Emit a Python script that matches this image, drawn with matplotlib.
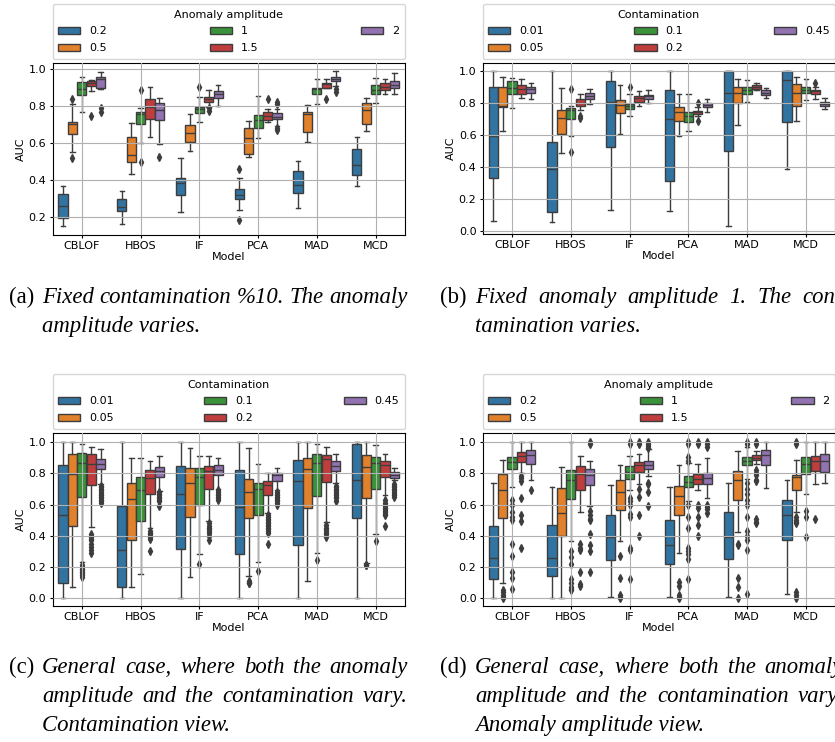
import numpy as np
import matplotlib.pyplot as plt
from matplotlib.patches import Patch

models = ["CBLOF", "HBOS", "IF", "PCA", "MAD", "MCD"]
amplitudes = ["0.2", "0.5", "1", "1.5", "2"]
contaminations = ["0.01", "0.05", "0.1", "0.2", "0.45"]

# box summaries: (whisker low, q1, median, q3, whisker high)
# one row per hue level, one tuple per model (CBLOF, HBOS, IF, PCA, MAD, MCD)

# (a) contamination fixed at 10%, amplitude varies
stats_a = [
    [(0.148, 0.193, 0.256, 0.322, 0.369), (0.160, 0.232, 0.252, 0.295, 0.340),
     (0.223, 0.319, 0.380, 0.409, 0.517), (0.238, 0.295, 0.319, 0.351, 0.409),
     (0.247, 0.328, 0.373, 0.445, 0.504), (0.369, 0.427, 0.481, 0.568, 0.629)],
    [(0.550, 0.647, 0.703, 0.712, 0.811), (0.432, 0.495, 0.535, 0.631, 0.710),
     (0.557, 0.604, 0.656, 0.694, 0.755), (0.523, 0.539, 0.625, 0.679, 0.719),
     (0.602, 0.661, 0.757, 0.767, 0.805), (0.665, 0.703, 0.778, 0.818, 0.841)],
    [(0.769, 0.859, 0.892, 0.932, 0.955), (0.598, 0.703, 0.755, 0.769, 0.787),
     (0.714, 0.764, 0.784, 0.796, 0.850), (0.625, 0.679, 0.724, 0.751, 0.856),
     (0.809, 0.863, 0.890, 0.899, 0.944), (0.818, 0.863, 0.886, 0.914, 0.953)],
    [(0.883, 0.908, 0.926, 0.937, 0.940), (0.634, 0.728, 0.793, 0.836, 0.900),
     (0.793, 0.820, 0.838, 0.850, 0.888), (0.715, 0.724, 0.748, 0.769, 0.782),
     (0.895, 0.899, 0.917, 0.926, 0.946), (0.865, 0.886, 0.905, 0.923, 0.946)],
    [(0.892, 0.895, 0.946, 0.959, 0.982), (0.595, 0.724, 0.778, 0.818, 0.845),
     (0.800, 0.845, 0.863, 0.881, 0.915), (0.690, 0.728, 0.740, 0.764, 0.785),
     (0.908, 0.935, 0.946, 0.959, 0.991), (0.863, 0.895, 0.914, 0.937, 0.977)],
]
fliers_a = {
    ("0.5", "CBLOF"): [0.84, 0.52],
    ("1.5", "CBLOF"): [0.744],
    ("2", "CBLOF"): [0.787, 0.769],
    ("1", "HBOS"): [0.886, 0.494],
    ("2", "HBOS"): [0.521],
    ("1", "IF"): [0.901],
    ("1.5", "IF"): [0.787, 0.773],
    ("0.2", "PCA"): [0.459, 0.184],
    ("1.5", "PCA"): [0.836],
    ("2", "PCA"): [0.82, 0.81, 0.68, 0.667],
    ("1.5", "MAD"): [0.836],
    ("2", "MAD"): [0.89, 0.877],
}

# (b) amplitude fixed at 1, contamination varies
stats_b = [
    [(0.062, 0.331, 0.594, 0.900, 1.000), (0.056, 0.118, 0.387, 0.553, 1.000),
     (0.130, 0.525, 0.807, 0.932, 1.000), (0.124, 0.311, 0.698, 0.880, 1.000),
     (0.031, 0.497, 0.860, 0.998, 1.000), (0.387, 0.677, 0.942, 0.998, 1.000)],
    [(0.621, 0.772, 0.780, 0.900, 0.959), (0.487, 0.605, 0.704, 0.752, 0.894),
     (0.605, 0.735, 0.787, 0.818, 0.911), (0.594, 0.683, 0.741, 0.776, 0.853),
     (0.663, 0.801, 0.859, 0.900, 0.948), (0.683, 0.781, 0.859, 0.915, 0.959)],
    [(0.766, 0.853, 0.890, 0.932, 0.952), (0.594, 0.698, 0.752, 0.766, 0.781),
     (0.714, 0.760, 0.781, 0.793, 0.853), (0.621, 0.677, 0.718, 0.745, 0.853),
     (0.807, 0.855, 0.880, 0.896, 0.942), (0.818, 0.859, 0.880, 0.900, 0.948)],
    [(0.832, 0.855, 0.884, 0.911, 0.946), (0.752, 0.781, 0.801, 0.822, 0.853),
     (0.781, 0.807, 0.828, 0.839, 0.870), (0.714, 0.729, 0.739, 0.749, 0.770),
     (0.876, 0.884, 0.900, 0.911, 0.925), (0.822, 0.855, 0.870, 0.880, 0.897)],
    [(0.822, 0.863, 0.884, 0.896, 0.925), (0.791, 0.822, 0.839, 0.859, 0.884),
     (0.797, 0.822, 0.839, 0.849, 0.876), (0.739, 0.772, 0.787, 0.801, 0.822),
     (0.828, 0.849, 0.863, 0.880, 0.890), (0.760, 0.781, 0.793, 0.807, 0.828)],
]
fliers_b = {
    ("0.1", "HBOS"): [0.884, 0.49],
    ("0.2", "HBOS"): [0.718, 0.704],
    ("0.1", "IF"): [0.897],
    ("0.2", "PCA"): [0.797, 0.683],
    ("0.2", "MCD"): [0.921],
}

# (c) both vary, grouped by contamination
stats_c = [
    [(0.000, 0.096, 0.534, 0.853, 1.000), (0.000, 0.074, 0.308, 0.588, 1.000),
     (0.000, 0.315, 0.670, 0.847, 1.000), (0.000, 0.283, 0.585, 0.819, 1.000),
     (0.000, 0.340, 0.751, 0.885, 1.000), (0.000, 0.513, 0.757, 0.985, 1.000)],
    [(0.070, 0.465, 0.795, 0.921, 1.000), (0.070, 0.374, 0.634, 0.736, 0.900),
     (0.135, 0.520, 0.740, 0.835, 0.960), (0.144, 0.511, 0.683, 0.762, 0.964),
     (0.112, 0.575, 0.830, 0.898, 1.000), (0.225, 0.639, 0.840, 0.915, 1.000)],
    [(0.230, 0.645, 0.864, 0.932, 0.985), (0.155, 0.492, 0.696, 0.776, 0.900),
     (0.285, 0.600, 0.775, 0.836, 0.910), (0.234, 0.534, 0.698, 0.741, 0.857),
     (0.290, 0.655, 0.868, 0.926, 0.990), (0.410, 0.698, 0.868, 0.904, 0.979)],
    [(0.457, 0.725, 0.862, 0.926, 0.970), (0.447, 0.666, 0.770, 0.819, 0.881),
     (0.495, 0.702, 0.815, 0.847, 0.910), (0.543, 0.660, 0.726, 0.751, 0.800),
     (0.490, 0.745, 0.894, 0.915, 0.970), (0.660, 0.779, 0.853, 0.879, 0.921)],
    [(0.730, 0.830, 0.862, 0.894, 0.958), (0.687, 0.776, 0.815, 0.840, 0.910),
     (0.700, 0.787, 0.821, 0.851, 0.900), (0.690, 0.751, 0.787, 0.800, 0.832),
     (0.741, 0.815, 0.847, 0.877, 0.921), (0.755, 0.773, 0.790, 0.808, 0.832)],
]
fliers_c = {
    ("0.1", "CBLOF"): [0.135, 0.15, 0.16, 0.17, 0.18, 0.19, 0.2, 0.21],
    ("0.2", "CBLOF"): [0.29, 0.31, 0.33, 0.35, 0.37, 0.38, 0.39, 0.4, 0.41],
    ("0.45", "CBLOF"): [0.61, 0.62, 0.63, 0.64, 0.65, 0.66, 0.67, 0.68, 0.69,
                        0.7, 0.71, 0.72],
    ("0.2", "HBOS"): [0.3, 0.38, 0.39, 0.4, 0.41, 0.42, 0.43],
    ("0.45", "HBOS"): [0.59, 0.62, 0.63, 0.64, 0.65, 0.66, 0.67, 0.68],
    ("0.1", "IF"): [0.22],
    ("0.2", "IF"): [0.37, 0.4, 0.42, 0.43, 0.44, 0.45, 0.46, 0.48],
    ("0.45", "IF"): [0.63, 0.64, 0.65, 0.66, 0.67, 0.68, 0.69],
    ("0.05", "PCA"): [0.095, 0.1, 0.105, 0.11],
    ("0.1", "PCA"): [0.176],
    ("0.2", "PCA"): [0.35, 0.42, 0.43, 0.44, 0.45, 0.46, 0.47, 0.48, 0.49,
                     0.5, 0.51, 0.52, 0.53],
    ("0.45", "PCA"): [0.6, 0.61, 0.62, 0.63, 0.64, 0.65, 0.66, 0.67, 0.68],
    ("0.1", "MAD"): [0.245],
    ("0.2", "MAD"): [0.395, 0.41, 0.42, 0.43, 0.44, 0.45, 0.47],
    ("0.45", "MAD"): [0.625, 0.64, 0.65, 0.66, 0.67, 0.68, 0.69, 0.7, 0.71,
                      0.72],
    ("0.05", "MCD"): [0.21, 0.215],
    ("0.1", "MCD"): [0.368],
    ("0.2", "MCD"): [0.463, 0.53, 0.54, 0.55, 0.56, 0.57, 0.58, 0.59, 0.6,
                     0.61, 0.63],
    ("0.45", "MCD"): [0.65, 0.66, 0.67, 0.68, 0.69, 0.7, 0.71, 0.72, 0.73],
}

# (d) both vary, grouped by anomaly amplitude
stats_d = [
    [(0.000, 0.125, 0.255, 0.460, 0.740), (0.000, 0.140, 0.255, 0.470, 0.710),
     (0.010, 0.245, 0.395, 0.530, 0.725), (0.005, 0.220, 0.340, 0.500, 0.715),
     (0.005, 0.250, 0.390, 0.550, 0.740), (0.030, 0.370, 0.530, 0.630, 0.760)],
    [(0.095, 0.515, 0.695, 0.795, 0.885), (0.000, 0.400, 0.545, 0.705, 0.840),
     (0.365, 0.565, 0.680, 0.755, 0.850), (0.290, 0.530, 0.655, 0.720, 0.850),
     (0.425, 0.630, 0.755, 0.815, 0.940), (0.550, 0.690, 0.775, 0.790, 0.885)],
    [(0.710, 0.830, 0.875, 0.905, 1.000), (0.365, 0.635, 0.760, 0.820, 1.000),
     (0.695, 0.765, 0.810, 0.845, 0.910), (0.620, 0.715, 0.745, 0.785, 0.865),
     (0.765, 0.855, 0.880, 0.905, 0.970), (0.670, 0.795, 0.860, 0.905, 1.000)],
    [(0.800, 0.875, 0.910, 0.935, 1.000), (0.550, 0.695, 0.795, 0.845, 0.910),
     (0.730, 0.810, 0.850, 0.870, 0.925), (0.690, 0.730, 0.765, 0.795, 0.860),
     (0.860, 0.885, 0.900, 0.915, 0.940), (0.730, 0.815, 0.880, 0.910, 1.000)],
    [(0.755, 0.860, 0.920, 0.950, 1.000), (0.590, 0.725, 0.790, 0.830, 0.880),
     (0.780, 0.825, 0.850, 0.880, 0.955), (0.640, 0.730, 0.770, 0.800, 0.900),
     (0.705, 0.850, 0.920, 0.950, 1.000), (0.735, 0.810, 0.880, 0.925, 1.000)],
]
fliers_d = {
    ("0.5", "CBLOF"): [0.0, 0.01, 0.02, 0.04, 0.05],
    ("1", "CBLOF"): [0.63, 0.6, 0.555, 0.52, 0.5, 0.35, 0.27, 0.165, 0.13, 0.06],
    ("1.5", "CBLOF"): [0.78, 0.77, 0.75, 0.64, 0.53, 0.495, 0.32],
    ("2", "CBLOF"): [0.69],
    ("1", "HBOS"): [0.3, 0.265, 0.22, 0.12, 0.1, 0.07, 0.06, 0.055],
    ("1.5", "HBOS"): [0.35, 0.32, 0.31, 0.17, 0.09, 0.08],
    ("2", "HBOS"): [1.0, 0.99, 0.56, 0.53, 0.51, 0.5, 0.41, 0.34, 0.3, 0.165],
    ("0.5", "IF"): [0.27, 0.13, 0.02, 0.01, 0.0],
    ("1", "IF"): [1.0, 0.99, 0.64, 0.62, 0.6, 0.54, 0.52, 0.32, 0.31, 0.125],
    ("1.5", "IF"): [1.0, 0.99, 0.7, 0.65, 0.53, 0.4],
    ("2", "IF"): [1.0, 0.99, 0.975, 0.96, 0.74, 0.73, 0.68, 0.59],
    ("0.5", "PCA"): [0.105, 0.08, 0.02, 0.01, 0.0],
    ("1", "PCA"): [1.0, 0.99, 0.905, 0.88, 0.6, 0.52, 0.45, 0.32, 0.3, 0.28,
                   0.25, 0.125],
    ("1.5", "PCA"): [1.0, 0.99, 0.6, 0.58, 0.52, 0.47, 0.4],
    ("2", "PCA"): [1.0, 0.99, 0.97, 0.6, 0.585, 0.57, 0.545],
    ("0.5", "MAD"): [0.35, 0.34, 0.13, 0.07, 0.0],
    ("1", "MAD"): [1.0, 0.99, 0.74, 0.7, 0.67, 0.63, 0.6, 0.52, 0.43, 0.4, 0.37,
                   0.31, 0.03],
    ("1.5", "MAD"): [1.0, 0.99, 0.82, 0.8, 0.79, 0.76, 0.75, 0.51, 0.49, 0.48],
    ("0.5", "MCD"): [1.0, 0.99, 0.52, 0.5, 0.49, 0.48, 0.04, 0.02, 0.0],
    ("1", "MCD"): [0.56, 0.52, 0.39],
    ("1.5", "MCD"): [0.51],
}

# caption text, one entry per line
caption_a = ["Fixed contamination %10. The anomaly", "amplitude varies."]
caption_b = ["Fixed anomaly amplitude 1. The con-", "tamination varies."]
caption_c = ["General case, where both the anomaly",
             "amplitude and the contamination vary.", "Contamination view."]
caption_d = ["General case, where both the anomaly",
             "amplitude and the contamination vary.", "Anomaly amplitude view."]

colors = ["#3274a1", "#e1812c", "#3a923a", "#c03d3e", "#9372b2"]
gray = "#3d3d3d"
W, H = 835, 742


def px(x, y):
    return x / W, 1 - y / H


def draw_panel(ax, stats, fliers, levels, title, ylim, yticks):
    n = len(levels)
    each = 0.8 / n
    base = np.arange(len(models))
    for i, level in enumerate(levels):
        boxes = []
        for m, (lo, q1, med, q3, hi) in zip(models, stats[i]):
            boxes.append(dict(whislo=lo, q1=q1, med=med, q3=q3, whishi=hi,
                              fliers=fliers.get((level, m), [])))
        ax.bxp(boxes, positions=base - 0.4 + each * (i + 0.5),
               widths=each * 0.98, patch_artist=True, manage_ticks=False,
               boxprops=dict(facecolor=colors[i], edgecolor=gray, linewidth=1.0),
               medianprops=dict(color=gray, linewidth=1.0),
               whiskerprops=dict(color=gray, linewidth=1.0),
               capprops=dict(color=gray, linewidth=1.0),
               flierprops=dict(marker="d", markersize=3.8, markerfacecolor=gray,
                               markeredgecolor=gray, linestyle="none"))
    ax.set_xlim(-0.5, len(models) - 0.5)
    ax.set_ylim(*ylim)
    ax.set_xticks(base)
    ax.set_xticklabels(models)
    ax.set_yticks(yticks)
    ax.set_yticklabels([f"{t:.1f}" for t in yticks])
    ax.tick_params(labelsize=8, length=2, pad=2.5)
    ax.set_axisbelow(False)
    ax.grid(True, color="#b0b0b0", linewidth=0.8)
    ax.set_xlabel("Model", fontsize=8, labelpad=0.5)
    ax.set_ylabel("AUC", fontsize=8, labelpad=2)
    handles = [Patch(facecolor=c, edgecolor=gray, linewidth=1.0) for c in colors]
    ax.legend(handles, levels, title=title, ncol=3, loc="lower left",
              bbox_to_anchor=(0, 1.022, 1, 0.2), mode="expand", borderaxespad=0,
              fontsize=8, title_fontsize=8, borderpad=0.5, labelspacing=0.62)


fig = plt.figure(figsize=(W / 100, H / 100), dpi=100)
left_a, left_b, aw = 52.5, 482.7, 352.5
ax_a = fig.add_axes([left_a / W, (H - 235) / H, aw / W, 172.3 / H])
ax_b = fig.add_axes([left_b / W, (H - 234) / H, aw / W, 171.3 / H])
ax_c = fig.add_axes([left_a / W, (H - 606) / H, aw / W, 173.3 / H])
ax_d = fig.add_axes([left_b / W, (H - 606) / H, aw / W, 173.3 / H])

ticks01 = [0.0, 0.2, 0.4, 0.6, 0.8, 1.0]
draw_panel(ax_a, stats_a, fliers_a, amplitudes, "Anomaly amplitude",
           (0.101, 1.034), [0.2, 0.4, 0.6, 0.8, 1.0])
draw_panel(ax_b, stats_b, fliers_b, contaminations, "Contamination",
           (-0.018, 1.049), ticks01)
draw_panel(ax_c, stats_c, fliers_c, contaminations, "Contamination",
           (-0.05, 1.06), ticks01)
draw_panel(ax_d, stats_d, fliers_d, amplitudes, "Anomaly amplitude",
           (-0.05, 1.06), ticks01)

# sub-figure captions, justified like a two-column paper layout
renderer = fig.canvas.get_renderer()
cap_font = dict(family="Liberation Serif", fontsize=16.4, va="baseline",
                ha="left")


def caption_line(x0, x1, y, line, justify):
    if not justify:
        fig.text(*px(x0, y), line, style="italic", **cap_font)
        return
    words = [fig.text(0, 0, w, style="italic", **cap_font) for w in line.split()]
    widths = [t.get_window_extent(renderer).width for t in words]
    gap = (x1 - x0 - sum(widths)) / (len(words) - 1)
    x = x0
    for t, w in zip(words, widths):
        t.set_position(px(x, y))
        x += w + gap


captions = [("(a)", 9, 42, 408, 303, caption_a),
            ("(b)", 440, 475, 843, 303, caption_b),
            ("(c)", 9, 42, 408, 673, caption_c),
            ("(d)", 440, 475, 843, 673, caption_d)]
for tag, x_tag, x0, x1, y0, lines in captions:
    fig.text(*px(x_tag, y0), tag, **cap_font)
    for k, line in enumerate(lines):
        caption_line(x0, x1, y0 + 29 * k, line, k < len(lines) - 1)

fig.savefig("out.png", dpi=100)
